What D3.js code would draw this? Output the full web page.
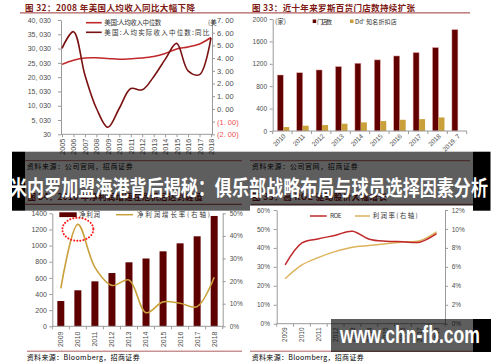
<!DOCTYPE html>
<html><head><meta charset="utf-8">
<script src="https://cdn.jsdelivr.net/npm/d3@7"></script>
<style>
html,body{margin:0;padding:0;background:#fff;}
svg{display:block;}
</style></head><body>
<svg id="c" width="500" height="362"></svg>
<script>
// ===== Figure 32 data =====
const years32 = [2005,2006,2007,2008,2009,2010,2011,2012,2013,2014,2015,2016,2017,2018];
const income32 = [24500,25930,26735,26800,26560,26280,26455,26735,27260,28310,29885,30585,31635,33910];
const realYoY32 = [4.77,6.08,2.67,0.05,-1.45,0.05,1.6,1.5,2.54,3.9,5.16,3.0,2.7,5.6];
const leftTicks32 = [30,5030,10030,15030,20030,25030,30030,35030,40030];
const rightTicks32 = [-2,-1,0,1,2,3,4,5,6,7];

// ===== Figure 33 data =====
const cats33 = ["2010","2011","2012","2013","2014","2015","2016","2017","2018","2019. 7"];
const stores33 = [1000,1040,1090,1150,1210,1270,1340,1400,1490,1810];
const dds33 = [70,95,106,130,154,177,200,212,242,null];
const ticks33 = [0,400,800,1200,1600,2000];

// ===== Figure 34 data =====
const years34 = ["2009","2010","2011","2012","2013","2014","2015","2016","2017","2018"];
const profit34 = [313,446,557,660,793,840,929,1028,1115,1367];
const growth34 = [16.8,45.1,26.1,18.1,20.5,6.0,10.8,10.2,8.7,21.7];
const leftTicks34 = [0,200,400,600,800,1000,1200,1400];
const rightTicks34 = [0,10,20,30,40,50];

// ===== Figure 35 data =====
const years35 = ["2009","2010","2011","2012","2013","2014","2015","2016","2017","2018"];
const roe35 = [31.0,42.6,44.8,46.7,48.8,44.6,43.5,43.3,43.0,47.5];
const margin35 = [4.75,6.2,7.0,7.63,8.08,8.26,8.45,8.62,8.76,9.7];
const leftTicks35 = [0,10,20,30,40,50,60];
const rightTicks35 = [0,2,4,6,8,10,12];

// ===== helpers =====
const svg = d3.select("#c");
svg.append("rect").attr("width",500).attr("height",362).attr("fill","#fff");
const FONT = "'Liberation Sans', Arial, sans-serif";
const CJK = "'Noto Sans CJK SC', 'Noto Sans', sans-serif";
const AX = "#9a9a9a", LBL = "#4d4d4d", TITLE = "#7e1a14", RULE = "#9b3636";
const DARKRED = "#5e0000", GOLD = "#c9a23a";

function txt(x,y,s,o={}){
  const t = svg.append("text").attr("x",x).attr("y",y).text(s)
    .attr("font-family",o.cjk?CJK:FONT).attr("font-size",o.size||7).attr("fill",o.fill||"#000");
  if(o.bold) t.attr("font-weight",700);
  if(o.len) t.attr("textLength",o.len).attr("lengthAdjust",o.adj||"spacing");
  if(o.anchor) t.attr("text-anchor",o.anchor);
  return t;
}
function ln(x1,y1,x2,y2,c,w){
  return svg.append("line").attr("x1",x1).attr("y1",y1).attr("x2",x2).attr("y2",y2)
    .attr("stroke",c).attr("stroke-width",w||1);
}
function styleAxis(g,size){
  g.attr("font-family",FONT).attr("font-size",size);
  g.select(".domain").attr("stroke",AX);
  g.selectAll(".tick line").attr("stroke",AX);
  g.selectAll(".tick text").attr("fill",LBL);
}
function bandTicks(x,y,len){
  const st = x.step(), bw = x.bandwidth();
  const xs = x.domain().map(d => x(d)+bw/2-st/2);
  xs.push(x(x.domain()[x.domain().length-1])+bw/2+st/2);
  svg.append("g").selectAll("line").data(xs).join("line")
    .attr("x1",d=>d).attr("x2",d=>d).attr("y1",y).attr("y2",y+len).attr("stroke",AX);
}
const curve = d3.curveCatmullRom.alpha(0.5);

// ===== Titles and rules =====
txt(25,10.5,"图 32：2008 年美国人均收入同比大幅下降",{cjk:true,bold:true,size:8.5,fill:TITLE,len:170});
txt(252,10.5,"图 33：近十年来罗斯百货门店数持续扩张",{cjk:true,bold:true,size:8.5,fill:TITLE,len:163});
ln(20,12.9,470,12.9,RULE,1);
txt(27.5,199.5,"图 34：2010 年净利润增速在危机后达到峰值",{cjk:true,bold:true,size:8.5,fill:TITLE,len:175});
txt(252,199.5,"图 35：高 ROE 驱动股价大幅增长",{cjk:true,bold:true,size:8.5,fill:TITLE,len:135});
ln(25,204.3,242,204.3,RULE,1);
ln(251,204.3,473,204.3,RULE,1);

// source lines
ln(25,160.7,242,160.7,RULE,0.8);
ln(250,160.7,470,160.7,RULE,0.8);
txt(26.7,168.8,"资料来源：公司官网，招商证券",{cjk:true,size:7,len:106});
txt(251.7,168.8,"资料来源：公司官网，招商证券",{cjk:true,size:7,len:106});
ln(27,351.2,242,351.2,RULE,0.8);
ln(250,351.2,473,351.2,RULE,0.8);
txt(26.7,359.5,"资料来源：Bloomberg，招商证券",{cjk:true,size:7,len:113});
txt(251.7,359.5,"资料来源：Bloomberg，招商证券",{cjk:true,size:7,len:112});

// ===== Figure 32 =====
const x32 = d3.scaleLinear().domain([2005,2018]).range([62,211]);
const yL32 = d3.scaleLinear().domain([30,40030]).range([134.3,20]);
const yR32 = d3.scaleLinear().domain([-2,7]).range([134.3,20]);
const gL32 = svg.append("g").attr("transform","translate(61,0)")
  .call(d3.axisLeft(yL32).tickValues(leftTicks32).tickSize(3).tickSizeOuter(0).tickPadding(7)
    .tickFormat(d=>d3.format(",")(d).replace(",",", ")));
styleAxis(gL32,7);
const fmtR = v => v.toFixed(2).replace(".",". ");
const gR32 = svg.append("g").attr("transform","translate(212,0)")
  .call(d3.axisRight(yR32).tickValues(rightTicks32).tickSize(3).tickSizeOuter(0).tickPadding(2)
    .tickFormat(d=> d<0 ? "("+fmtR(-d)+")" : fmtR(d)));
styleAxis(gR32,7.5);
gR32.selectAll(".tick text").attr("fill",d=>d<0?"#f05050":LBL);
const gX32 = svg.append("g").attr("transform","translate(0,134.3)")
  .call(d3.axisBottom(x32).tickValues(years32).tickSize(3).tickSizeOuter(0).tickFormat(d3.format("d")));
styleAxis(gX32,7.2);
gX32.select(".domain").remove();
gX32.selectAll(".tick text").attr("transform","rotate(-90)").attr("x",-4.5).attr("y",0)
  .attr("dy","0.35em").attr("text-anchor","end");
ln(61,134.3,212,134.3,AX,1);

svg.append("path").datum(income32)
  .attr("d",d3.line().x((d,i)=>x32(years32[i])).y(d=>yL32(d)).curve(curve))
  .attr("fill","none").attr("stroke","#c0282a").attr("stroke-width",1.6);
svg.append("path").datum(realYoY32)
  .attr("d",d3.line().x((d,i)=>x32(years32[i])).y(d=>yR32(d)).curve(curve))
  .attr("fill","none").attr("stroke","#7a1010").attr("stroke-width",1.6);

ln(86,22.7,101.7,22.7,"#c0282a",1.6);
txt(104.3,25.2,"美国:人均收入中位数",{cjk:true,size:6.5,fill:"#333",len:57});
txt(208,25.2,"(美",{cjk:true,size:6.5,fill:"#333"});
ln(86,32.3,101.7,32.3,"#7a1010",1.6);
txt(104.3,34.8,"美国:人均实际收入中位数:同比",{cjk:true,size:6.5,fill:"#333",len:105});

// ===== Figure 33 =====
const x33 = d3.scaleBand().domain(cats33).range([272.7,466.7]).padding(0);
const s33 = d3.scaleBand().domain(["stores","dds"]).range([0,x33.bandwidth()])
  .paddingInner(0).paddingOuter(0.62).align(0.62);
const y33 = d3.scaleLinear().domain([0,2000]).range([131,19]);
svg.append("g").selectAll("rect").data(stores33).join("rect")
  .attr("x",(d,i)=>x33(cats33[i])+s33("stores")).attr("y",d=>y33(d))
  .attr("width",s33.bandwidth()).attr("height",d=>y33(0)-y33(d))
  .attr("fill","#620000").attr("stroke","#e3a9a9").attr("stroke-width",0.5);
svg.append("g").selectAll("rect").data(dds33.map((v,i)=>({v,i})).filter(d=>d.v!=null)).join("rect")
  .attr("x",d=>x33(cats33[d.i])+s33("dds")).attr("y",d=>y33(d.v))
  .attr("width",s33.bandwidth()).attr("height",d=>y33(0)-y33(d.v))
  .attr("fill","#c9a03a");
const gL33 = svg.append("g").attr("transform","translate(272.7,0)")
  .call(d3.axisLeft(y33).tickValues(ticks33).tickSize(3).tickSizeOuter(0).tickPadding(2.7).tickFormat(d3.format("d")));
styleAxis(gL33,6.5);
ln(272.7,131,466.7,131,AX,1);
bandTicks(x33,131,3);
svg.append("g").selectAll("text").data(cats33).join("text")
  .attr("transform",d=>`translate(${x33(d)+x33.bandwidth()/2+2},135) rotate(-45)`)
  .attr("text-anchor","end").attr("dy","0.35em")
  .attr("font-family",FONT).attr("font-size",6.5).attr("fill",LBL).text(d=>d);
txt(275,24,"(家)",{cjk:true,size:6.5,fill:"#333"});
svg.append("rect").attr("x",312.7).attr("y",19.5).attr("width",3.5).attr("height",3.5).attr("fill","#620000");
txt(317,23.6,"门店数",{cjk:true,size:6,fill:"#333",len:15});
svg.append("rect").attr("x",350).attr("y",19.5).attr("width",3.5).attr("height",3.5).attr("fill","#c9a03a");
txt(355,23.6,"Dd' 知名折扣店",{cjk:true,size:6,fill:"#333",len:41.7});

// ===== Figure 34 =====
const x34 = d3.scaleBand().domain(years34).range([52.3,222.7]).paddingInner(0.59).paddingOuter(0.295);
const yL34 = d3.scaleLinear().domain([0,1400]).range([326.3,213.3]);
const yR34 = d3.scaleLinear().domain([0,50]).range([326.3,213.3]);
svg.append("g").selectAll("rect").data(profit34).join("rect")
  .attr("x",(d,i)=>x34(years34[i])).attr("y",d=>yL34(d))
  .attr("width",x34.bandwidth()).attr("height",d=>yL34(0)-yL34(d)).attr("fill",DARKRED);
const gL34 = svg.append("g").attr("transform","translate(52.3,0)")
  .call(d3.axisLeft(yL34).tickValues(leftTicks34).tickSize(3).tickSizeOuter(0).tickPadding(2.3).tickFormat(d3.format("d")));
styleAxis(gL34,7);
const gR34 = svg.append("g").attr("transform","translate(222.7,0)")
  .call(d3.axisRight(yR34).tickValues(rightTicks34).tickSize(3).tickSizeOuter(0).tickPadding(4).tickFormat(d=>d+"%"));
styleAxis(gR34,6.5);
ln(52.3,326.3,222.7,326.3,AX,1);
bandTicks(x34,326.3,3);
svg.append("g").selectAll("text").data(years34).join("text")
  .attr("transform",d=>`translate(${x34(d)+x34.bandwidth()/2},331.5) rotate(-90)`)
  .attr("text-anchor","end").attr("dy","0.35em")
  .attr("font-family",FONT).attr("font-size",7).attr("fill",LBL).text(d=>d);
svg.append("path").datum(growth34)
  .attr("d",d3.line().x((d,i)=>x34(years34[i])+x34.bandwidth()/2).y(d=>yR34(d)).curve(curve))
  .attr("fill","none").attr("stroke","#c9a03a").attr("stroke-width",1.6);
svg.append("ellipse").attr("cx",x34("2010")+x34.bandwidth()/2).attr("cy",229.3).attr("rx",15.5).attr("ry",11.5)
  .attr("fill","none").attr("stroke","#ff1a1a").attr("stroke-width",2)
  .attr("stroke-dasharray","0.1 3").attr("stroke-linecap","round");
svg.append("rect").attr("x",59.3).attr("y",212.3).attr("width",17.4).attr("height",4.8).attr("fill",DARKRED);
txt(79,217.3,"净利润",{cjk:true,size:6.5,fill:"#333",len:21});
ln(116,214.7,133,214.7,"#c9a03a",1.5);
txt(137,217.3,"净利润增长率(右轴)",{cjk:true,size:6.5,fill:"#333",len:73});

// ===== Figure 35 =====
const x35 = d3.scaleBand().domain(years35).range([276.7,445]);
const yL35 = d3.scaleLinear().domain([0,60]).range([323.7,210]);
const yR35 = d3.scaleLinear().domain([0,12]).range([323.7,210]);
const gL35 = svg.append("g").attr("transform","translate(276.7,0)")
  .call(d3.axisLeft(yL35).tickValues(leftTicks35).tickSize(3).tickSizeOuter(0).tickPadding(3.7).tickFormat(d=>d+"%"));
styleAxis(gL35,6.5);
const gR35 = svg.append("g").attr("transform","translate(445,0)")
  .call(d3.axisRight(yR35).tickValues(rightTicks35).tickSize(3).tickSizeOuter(0).tickPadding(3.7).tickFormat(d=>d+"%"));
styleAxis(gR35,6.5);
ln(276.7,323.7,445,323.7,AX,1);
bandTicks(x35,323.7,3);
svg.append("g").selectAll("text").data(years35).join("text")
  .attr("transform",d=>`translate(${x35(d)+x35.bandwidth()/2},327.5) rotate(-90)`)
  .attr("text-anchor","end").attr("dy","0.35em")
  .attr("font-family",FONT).attr("font-size",6.5).attr("fill",LBL).text(d=>d);
svg.append("path").datum(margin35)
  .attr("d",d3.line().x((d,i)=>x35(years35[i])+x35.bandwidth()/2).y(d=>yR35(d)).curve(curve))
  .attr("fill","none").attr("stroke","#dcb25a").attr("stroke-width",1.5);
svg.append("path").datum(roe35)
  .attr("d",d3.line().x((d,i)=>x35(years35[i])+x35.bandwidth()/2).y(d=>yL35(d)).curve(curve))
  .attr("fill","none").attr("stroke","#c0282a").attr("stroke-width",1.5);
ln(310,216,326.7,216,"#c0282a",1.5);
txt(330,218.3,"ROE",{cjk:true,size:6.5,fill:"#333",len:11.7});
ln(355,216,370,216,"#dcb25a",1.5);
txt(372.7,218.3,"利润率(右轴)",{cjk:true,size:6.5,fill:"#333",len:45});

// ===== Overlays =====
svg.append("rect").attr("x",25).attr("y",151.7).attr("width",225).attr("height",59).attr("fill","rgba(0,0,0,0.63)");
svg.append("rect").attr("x",250).attr("y",151.7).attr("width",223).attr("height",54).attr("fill","rgba(0,0,0,0.63)");
svg.append("rect").attr("x",12).attr("y",151.7).attr("width",13).attr("height",59).attr("fill","#000");
svg.append("rect").attr("x",473).attr("y",151.7).attr("width",17.5).attr("height",59).attr("fill","#000");
svg.append("text").attr("x",10).attr("y",194.5)
  .attr("font-family",CJK).attr("font-weight",700).attr("font-size",21).attr("fill","#fff")
  .attr("textLength",478).attr("lengthAdjust","spacingAndGlyphs")
  .text("米内罗加盟海港背后揭秘：俱乐部战略布局与球员选择因素分析");

svg.append("rect").attr("x",331).attr("y",319).attr("width",142).attr("height",33).attr("fill","rgba(0,0,0,0.63)");
svg.append("rect").attr("x",473).attr("y",319).attr("width",18).attr("height",33).attr("fill","#000");
svg.append("text").attr("x",340).attr("y",343.3)
  .attr("font-family",FONT).attr("font-weight",700).attr("font-size",23).attr("fill","#fff")
  .attr("textLength",140).attr("lengthAdjust","spacingAndGlyphs")
  .text("www.chn-fb.com");
</script>
</body></html>
